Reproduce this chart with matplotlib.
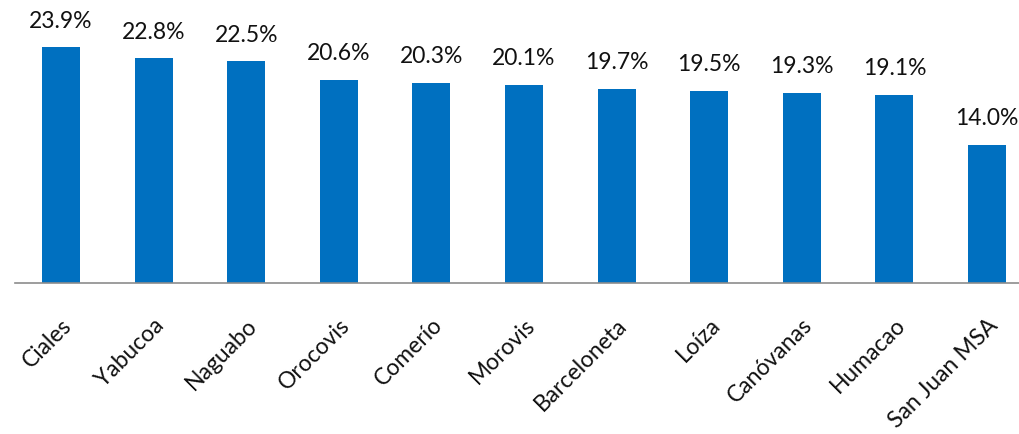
import matplotlib.pyplot as plt

plt.rcParams['font.family'] = ['Lato', 'DejaVu Sans']

towns = ['Ciales', 'Yabucoa', 'Naguabo', 'Orocovis', 'Comerío', 'Morovis',
         'Barceloneta', 'Loíza', 'Canóvanas', 'Humacao', 'San Juan MSA']
rates = [23.9, 22.8, 22.5, 20.6, 20.3, 20.1, 19.7, 19.5, 19.3, 19.1, 14.0]

W, H = 1020, 435
fig = plt.figure(figsize=(W / 100, H / 100), dpi=100)
# axes run slightly past the right edge so the last bar keeps full spacing
ax = fig.add_axes([14.7 / W, 151 / H, 1018.6 / W, 276 / H])

x = range(len(towns))
bars = ax.bar(x, rates, width=0.41, color='#0070C0')
ax.set_xlim(-0.5, len(towns) - 0.5)
ax.set_ylim(0, 28)

for rect, v in zip(bars, rates):
    ax.annotate(f'{v:.1f}%', (rect.get_x() + rect.get_width() / 2, v),
                xytext=(0, 12), textcoords='offset points',
                ha='center', va='bottom', fontsize=16.5, color='#111111')

for side in ['left', 'right', 'top']:
    ax.spines[side].set_visible(False)
ax.spines['bottom'].set_color('#8c8c8c')
ax.spines['bottom'].set_linewidth(1.2)
ax.set_yticks([])

ax.set_xticks(list(x))
ax.set_xticklabels(towns, rotation=45, ha='right', rotation_mode='anchor',
                   fontsize=16.5, color='#111111')
ax.tick_params(axis='x', length=0, pad=22)

plt.savefig('out.png', dpi=100)
